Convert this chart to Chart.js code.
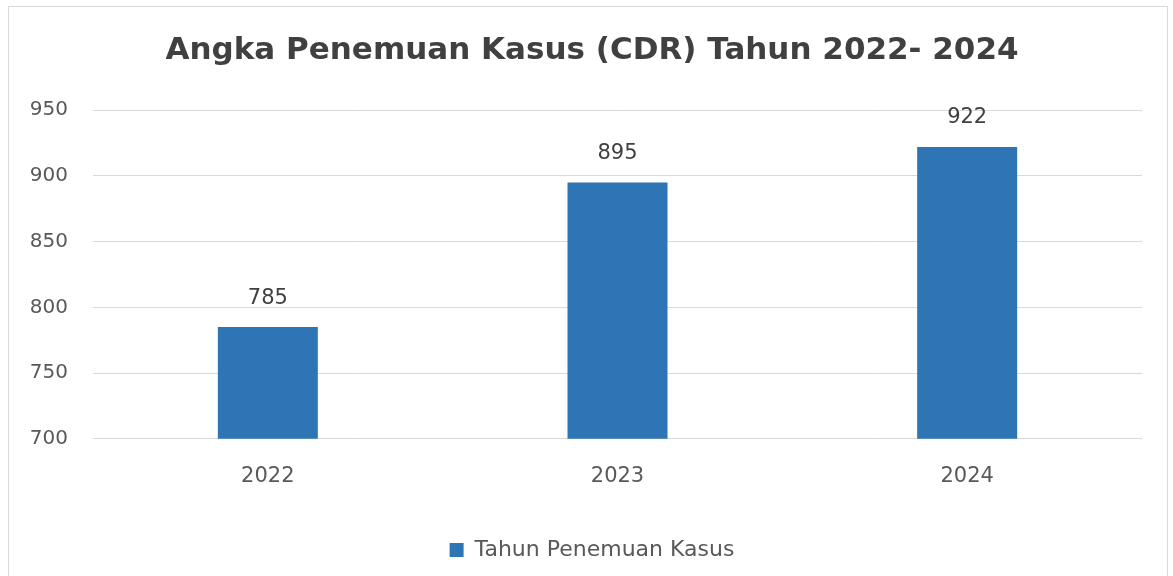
<!DOCTYPE html>
<html>
<head>
<meta charset="utf-8">
<script src="https://cdn.jsdelivr.net/npm/chart.js@4/dist/chart.umd.min.js"></script>
<style>
  html, body { margin: 0; padding: 0; background: #fff; overflow: hidden; }
  #frame {
    position: absolute; left: 8px; top: 6px;
    width: 1158px; height: 580px;
    border: 1px solid #d9d9d9;
  }
</style>
</head>
<body>
<div id="frame"><canvas id="chart" width="1158" height="569"></canvas></div>
<script>
const years = ["2022", "2023", "2024"];
const cases = [785, 895, 922];
const yTicks = [700, 750, 800, 850, 900, 950];

// draws the value above each bar
const valueLabels = {
  id: "valueLabels",
  afterDatasetsDraw(chart) {
    const ctx = chart.ctx;
    ctx.save();
    ctx.font = "21px 'DejaVu Sans'";
    ctx.fillStyle = "#404040";
    ctx.textAlign = "center";
    ctx.textBaseline = "middle";
    chart.getDatasetMeta(0).data.forEach((bar, i) => {
      ctx.fillText(cases[i], bar.x, bar.y - 29);
    });
    ctx.restore();
  }
};

// title and legend sit a bit right of the canvas centre in the original
const nudgeRight = {
  id: "nudgeRight",
  afterLayout(chart) {
    [chart.titleBlock, chart.legend].forEach(box => {
      if (box) box.left += 23;
    });
  }
};

new Chart(document.getElementById("chart"), {
  type: "bar",
  data: {
    labels: years,
    datasets: [{
      label: "Tahun Penemuan Kasus",
      data: cases,
      backgroundColor: "#2E75B6",
      barPercentage: 0.286,
      categoryPercentage: 1
    }]
  },
  options: {
    responsive: false,
    animation: false,
    layout: { padding: { left: 10, right: 25, top: 0, bottom: 5 } },
    plugins: {
      title: {
        display: true,
        text: "Angka Penemuan Kasus (CDR) Tahun 2022- 2024",
        color: "#404040",
        font: { family: "'DejaVu Sans'", size: 31, weight: "bold" },
        padding: { top: 25, bottom: 41 }
      },
      legend: {
        position: "bottom",
        labels: {
          color: "#595959",
          font: { family: "'DejaVu Sans'", size: 22 },
          boxWidth: 14,
          boxHeight: 14,
          padding: 33
        }
      },
      tooltip: { enabled: false }
    },
    scales: {
      x: {
        grid: { display: false },
        border: { display: false },
        ticks: { color: "#595959", font: { family: "'DejaVu Sans'", size: 21 }, padding: 17 }
      },
      y: {
        min: 700,
        max: 950,
        afterBuildTicks: s => { s.ticks = yTicks.map(v => ({ value: v })); },
        afterFit: s => { s.width = 74; },
        grid: { color: "#d9d9d9", drawTicks: false },
        border: { display: false },
        ticks: { color: "#595959", font: { family: "'DejaVu Sans'", size: 20 }, padding: 25 }
      }
    }
  },
  plugins: [valueLabels, nudgeRight]
});
</script>
</body>
</html>
